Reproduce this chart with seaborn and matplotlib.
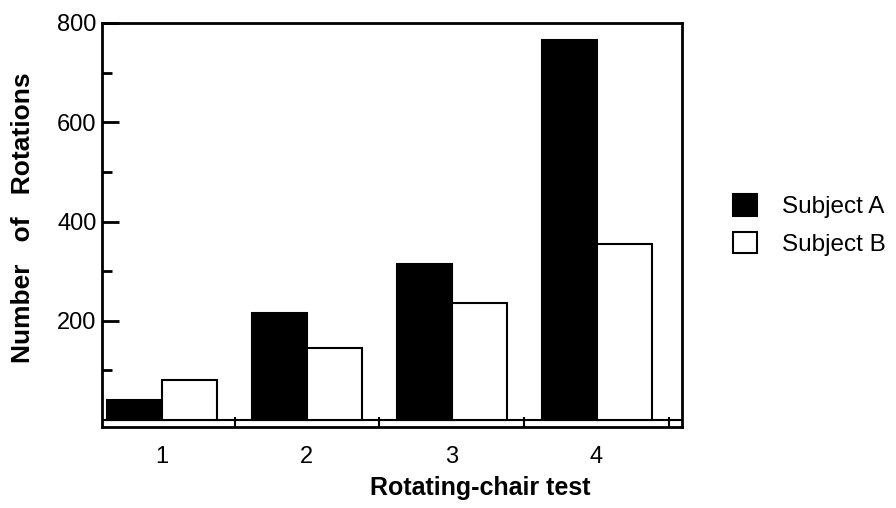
import matplotlib
matplotlib.use("Agg")
import matplotlib.pyplot as plt
import seaborn as sns
import pandas as pd
from matplotlib.ticker import FixedLocator

tests = ["1", "2", "3", "4"]
subject_a = [40, 215, 315, 765]
subject_b = [80, 145, 235, 355]
series_names = ["Subject A", "Subject B"]

df = pd.DataFrame({
    "test": tests * 2,
    "rotations": subject_a + subject_b,
    "subject": [series_names[0]] * 4 + [series_names[1]] * 4,
})

sns.set_theme(style="ticks")
plt.rcParams["font.family"] = ["Liberation Sans", "DejaVu Sans"]
plt.rcParams["text.color"] = "black"
plt.rcParams["axes.labelcolor"] = "black"

fig = plt.figure(figsize=(8.96, 5.08), dpi=100)
ax = fig.add_axes([102 / 896, 1 - 427 / 508, 580 / 896, 404 / 508])

sns.barplot(data=df, x="test", y="rotations", hue="subject", order=tests,
            hue_order=series_names, palette=["black", "white"], width=0.76,
            edgecolor="black", linewidth=1.5, saturation=1, ax=ax, legend=True)

ax.set_xlim(-0.415, 3.59)
ax.set_ylim(-14, 800)
ax.axhline(0, color="black", lw=1.5, zorder=0.5)

for s in ax.spines.values():
    s.set_linewidth(2)
    s.set_color("black")

ax.set_yticks([200, 400, 600, 800])
ax.yaxis.set_minor_locator(FixedLocator([100, 300, 500, 700]))
ax.tick_params(axis="y", which="major", direction="in", length=12, width=2,
               labelsize=17, pad=4, colors="black")
ax.tick_params(axis="y", which="minor", direction="in", length=7, width=2, colors="black")
ax.xaxis.set_minor_locator(FixedLocator([0.5, 1.5, 2.5, 3.5]))
ax.tick_params(axis="x", which="major", length=0, labelsize=17, pad=14, colors="black")
ax.tick_params(axis="x", which="minor", direction="in", length=7, width=1.5, colors="black")

ax.set_xlabel("Rotating-chair test", fontsize=18, fontweight="bold")
ax.xaxis.set_label_coords(0.653, -0.122)
ax.set_ylabel("Number   of   Rotations", fontsize=19, fontweight="bold")
ax.yaxis.set_label_coords(-0.115, 0.517)

handles, labels = ax.get_legend_handles_labels()
ax.legend(handles, labels, loc="center left", bbox_to_anchor=(721 / 896, 1 - 225 / 508),
          bbox_transform=fig.transFigure, frameon=False, fontsize=17.5, borderpad=0,
          handlelength=1.0, handleheight=1.0, handletextpad=1.0, labelspacing=0.55)

fig.savefig("out.png", dpi=100)
